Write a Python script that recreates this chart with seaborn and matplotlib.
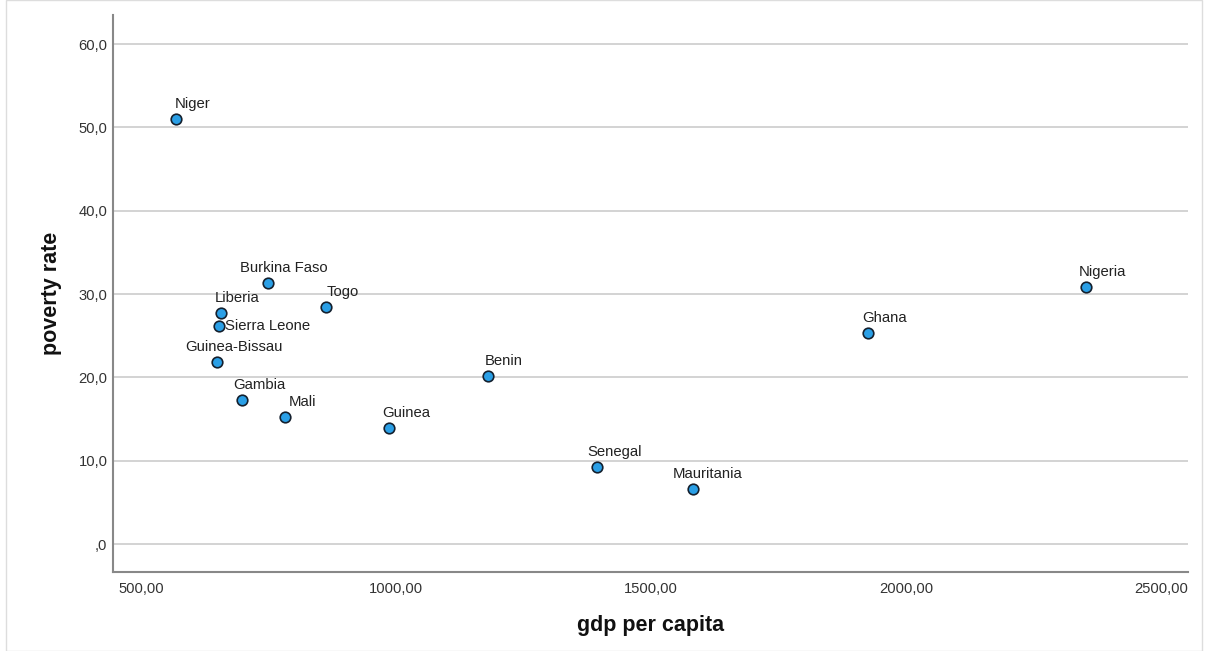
import matplotlib
matplotlib.use("Agg")
import matplotlib.pyplot as plt
from matplotlib.ticker import FuncFormatter
from matplotlib.patches import Rectangle
import pandas as pd
import seaborn as sns

# values
countries = ["Niger", "Burkina Faso", "Liberia", "Sierra Leone", "Togo",
             "Guinea-Bissau", "Gambia", "Mali", "Guinea", "Benin",
             "Senegal", "Mauritania", "Ghana", "Nigeria"]
gdp = [569, 749, 657, 653, 863, 649, 698, 782, 986, 1180, 1394, 1582, 1925, 2353]
poverty = [51.0, 31.3, 27.7, 26.2, 28.5, 21.8, 17.3, 15.3, 13.9, 20.2, 9.3, 6.6, 25.3, 30.9]

# label offsets in pixels (dx to text left edge, dy to text bottom; 0 = centred beside)
label_dx = [-1, -28, -6, 6, 0, -32, -9, 4, -7, -3, -10, -20, -5, -7]
label_dy = [8, 8, 8, 0, 8, 8, 8, 8, 8, 8, 8, 8, 8, 8]

df = pd.DataFrame({"country": countries, "gdp per capita": gdp, "poverty rate": poverty})

sns.set_theme(style="white")
plt.rcParams["font.family"] = ["Liberation Sans", "DejaVu Sans"]

fig = plt.figure(figsize=(12.05, 6.51), dpi=100)
ax = fig.add_axes([113 / 1205, 1 - 572 / 651, (1188 - 113) / 1205, (572 - 15) / 651])

sns.scatterplot(data=df, x="gdp per capita", y="poverty rate", ax=ax,
                s=58, color="#2a9fe6", edgecolor="#14202e", linewidth=1.2, zorder=3)

px = 72 / 100
for c, x, y, dx, dy in zip(countries, gdp, poverty, label_dx, label_dy):
    ax.annotate(c, (x, y), xytext=(dx * px, dy * px), textcoords="offset points",
                ha="left", va="bottom" if dy > 0 else "center",
                fontsize=10.7, color="#222222", zorder=4)

ax.set_xlim(445, 2553)
ax.set_ylim(-3.36, 63.5)
ax.set_xticks([500, 1000, 1500, 2000, 2500])
ax.set_yticks([0, 10, 20, 30, 40, 50, 60])
ax.xaxis.set_major_formatter(FuncFormatter(lambda v, p: f"{v:.2f}".replace(".", ",")))
ax.yaxis.set_major_formatter(FuncFormatter(lambda v, p: ",0" if v == 0 else f"{v:.1f}".replace(".", ",")))
ax.tick_params(axis="both", length=0, labelsize=10.6, labelcolor="#333333")
ax.tick_params(axis="y", pad=4)
ax.tick_params(axis="x", pad=7)

ax.grid(axis="y", color="#cccccc", linewidth=1.2)
ax.set_axisbelow(True)
for side in ["top", "right"]:
    ax.spines[side].set_visible(False)
for side in ["left", "bottom"]:
    ax.spines[side].set_color("#888888")
    ax.spines[side].set_linewidth(1.5)

ax.set_xlabel("gdp per capita", fontsize=15.5, fontweight="bold", color="#111111", labelpad=14)
ax.set_ylabel("poverty rate", fontsize=15.5, fontweight="bold", color="#111111", labelpad=12)

fig.patches.append(Rectangle((6 / 1205, 0), (1202 - 6) / 1205, 1, transform=fig.transFigure,
                             fill=False, edgecolor="#dddddd", linewidth=1))

fig.savefig("out.png", dpi=100)
